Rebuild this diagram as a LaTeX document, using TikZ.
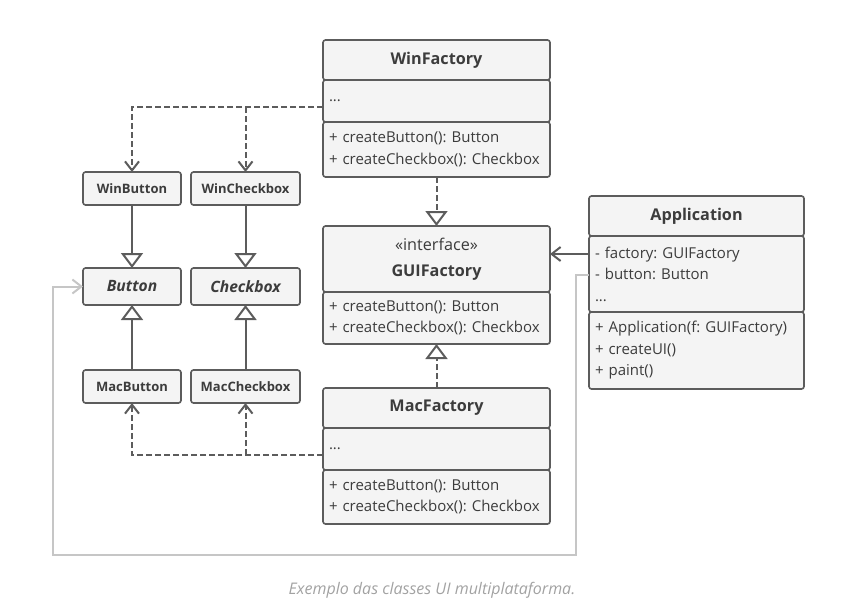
\documentclass[tikz,border=0pt]{standalone}
\usepackage{fontspec}
\setmainfont{Open Sans}
\usepackage{tikz}
\usetikzlibrary{positioning,arrows.meta}
\frenchspacing

\definecolor{linec}{HTML}{5C5C5C}
\definecolor{textc}{HTML}{3C3C3C}
\definecolor{boxf}{HTML}{F4F4F4}
\definecolor{loopc}{HTML}{C6C6C6}
\definecolor{capc}{HTML}{A2A2A2}

\begin{document}
\begin{tikzpicture}
  [x=1pt,y=-1pt,
   every node/.style={draw=linec, fill=boxf, line width=1.6pt, rounded corners=2.5pt,
                      inner sep=0pt, outer sep=0pt, text=textc},
   head/.style={anchor=north west, minimum width=227pt, minimum height=40pt,
                font=\fontsize{16.2}{26}\selectfont\bfseries},
   sect/.style={anchor=north, text width=215pt, inner xsep=6pt, align=left,
                font=\fontsize{15}{21.5}\selectfont},
   small/.style={anchor=north west, minimum height=33pt, font=\fontsize{13}{16}\selectfont\bfseries},
   abst/.style={anchor=north west, minimum height=37pt, font=\fontsize{15.6}{18}\selectfont\bfseries\itshape},
   dep/.style={draw=linec, line width=2pt, dash pattern=on 6pt off 3pt, -{Straight Barb[length=9pt,width=14pt,line width=2pt]}},
   realize/.style={draw=linec, line width=2pt, dash pattern=on 6pt off 3pt, -{Triangle[open,fill=white,length=15pt,width=22pt,line width=2pt]}},
   inh/.style={draw=linec, line width=2pt, -{Triangle[open,fill=white,length=15pt,width=22pt,line width=2pt]}},
   assoc/.style={draw=linec, line width=2pt, -{Straight Barb[length=9pt,width=14pt,line width=2pt]}},
   graylink/.style={draw=loopc, line width=2pt, -{Straight Barb[length=9pt,width=14pt,line width=2pt]}}]
  \useasboundingbox (0,0) rectangle (860,611);

  % factories
  \node[head] (winhead) at (323,40) {WinFactory};
  \node[sect, minimum height=42pt] (winattr) at (winhead.south) {...};
  \node[sect, minimum height=55pt] (winmeth) at (winattr.south) {+ createButton(): Button\\+ createCheckbox(): Checkbox};

  \node[head, minimum height=66pt, align=center] (guihead) at (323,226) {{\mdseries «interface»}\\GUIFactory};
  \node[sect, minimum height=52pt] (guimeth) at (guihead.south) {+ createButton(): Button\\+ createCheckbox(): Checkbox};

  \node[head] (machead) at (323,388) {MacFactory};
  \node[sect, minimum height=42pt] (macattr) at (machead.south) {...};
  \node[sect, minimum height=54pt] (macmeth) at (macattr.south) {+ createButton(): Button\\+ createCheckbox(): Checkbox};

  % client
  \node[head, minimum width=215pt] (apphead) at (589,196) {Application};
  \node[sect, text width=203pt, minimum height=76pt] (appattr) at (apphead.south) {- factory: GUIFactory\\- button: Button\\...};
  \node[sect, text width=203pt, minimum height=77pt] (appmeth) at (appattr.south) {+ Application(f: GUIFactory)\\+ createUI()\\+ paint()};

  % products
  \node[small, minimum width=98pt] (winbtn) at (83,172) {WinButton};
  \node[small, minimum width=109pt] (wincb) at (191,172) {WinCheckbox};
  \node[abst, minimum width=98pt] (btn) at (83,268) {Button};
  \node[abst, minimum width=109pt] (cbx) at (191,268) {Checkbox};
  \node[small, minimum width=98pt] (macbtn) at (83,370) {MacButton};
  \node[small, minimum width=109pt] (maccb) at (191,370) {MacCheckbox};

  \node[draw=none, fill=none, text=capc, font=\itshape\fontsize{16}{18}\selectfont] (caption) at (432,590) {Exemplo das classes UI multiplataforma.};

  \coordinate (winsrc) at ([yshift=-6pt]winattr.west);
  \coordinate (macsrc) at ([yshift=-6pt]macattr.west);
  \coordinate (fld1) at (589,254);
  \coordinate (fld2) at (589,275);
  \coordinate (loopR) at (576,555);
  \coordinate (loopL) at (53,555);

  \draw[dep] (winsrc) -| (winbtn.north);
  \draw[dep] (winsrc -| wincb.north) -- (wincb.north);
  \draw[dep] (macsrc) -| (macbtn.south);
  \draw[dep] (macsrc -| maccb.south) -- (maccb.south);

  \foreach \from/\to in {winbtn/btn, wincb/cbx, macbtn/btn, maccb/cbx}
    \draw[inh] (\from) -- (\to);

  \draw[realize] (winmeth) -- (guihead);
  \draw[realize] (machead) -- (guimeth);

  \draw[assoc] (fld1) -- (fld1 -| guihead.east);
  \draw[graylink] (fld2) -| (loopR) -- (loopL) |- (btn.west);
\end{tikzpicture}
\end{document}
